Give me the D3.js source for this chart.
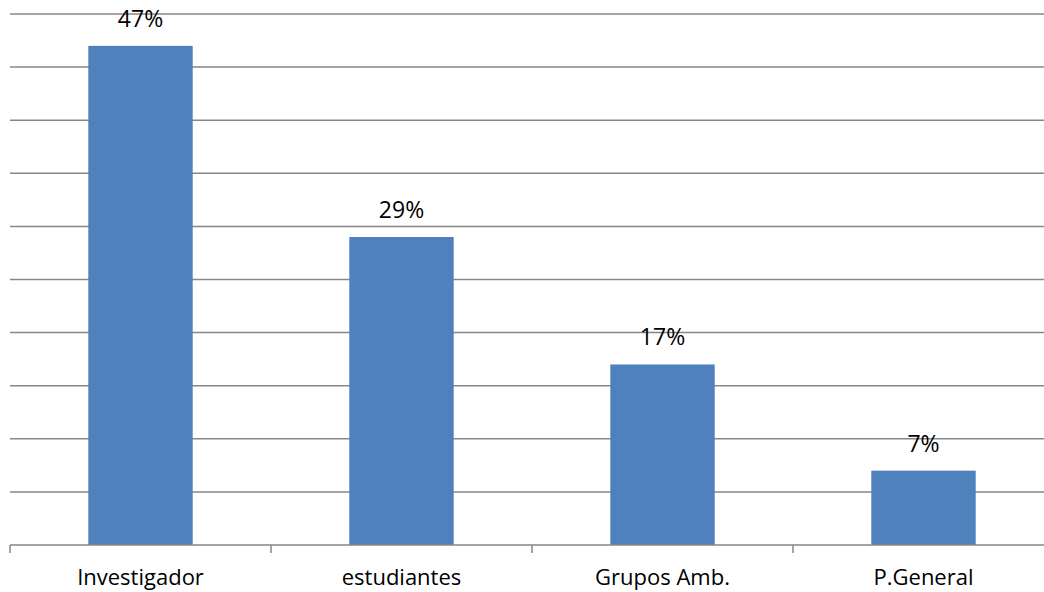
<!DOCTYPE html>
<html>
<head>
<meta charset="utf-8">
<script src="https://cdn.jsdelivr.net/npm/d3@7"></script>
<style>
  body { margin: 0; background: #fff; }
  text { font-family: "Open Sans", "Noto Sans", sans-serif; fill: #000; }
</style>
</head>
<body>
<svg id="chart" width="1044" height="592"></svg>
<script>
var categories = ["Investigador", "estudiantes", "Grupos Amb.", "P.General"];
var values = [0.47, 0.29, 0.17, 0.07];
var valueLabels = ["47%", "29%", "17%", "7%"];
var gridTicks = [0, 0.05, 0.10, 0.15, 0.20, 0.25, 0.30, 0.35, 0.40, 0.45, 0.50];

var svg = d3.select("#chart");
var plotLeft = 10, plotRight = 1054, plotTop = 14, plotBottom = 545;

var x = d3.scaleBand()
    .domain(categories)
    .range([plotLeft, plotRight])
    .paddingInner(0.6)
    .paddingOuter(0.3);

var y = d3.scaleLinear()
    .domain([0, 0.5])
    .range([plotBottom, plotTop]);

// gridlines
svg.append("g")
    .selectAll("line")
    .data(gridTicks.slice(1))
    .enter()
    .append("line")
    .attr("x1", plotLeft)
    .attr("x2", 1044)
    .attr("y1", function(d){ return y(d); })
    .attr("y2", function(d){ return y(d); })
    .attr("stroke", "#878787")
    .attr("stroke-width", 1.5);

// bars
svg.append("g")
    .selectAll("rect")
    .data(values)
    .enter()
    .append("rect")
    .attr("x", function(d, i){ return x(categories[i]); })
    .attr("y", function(d){ return y(d); })
    .attr("width", x.bandwidth())
    .attr("height", function(d){ return plotBottom - y(d); })
    .attr("fill", "#4f81bd");

// value labels
svg.append("g")
    .selectAll("text")
    .data(values)
    .enter()
    .append("text")
    .attr("x", function(d, i){ return x(categories[i]) + x.bandwidth() / 2; })
    .attr("y", function(d){ return y(d) - 19; })
    .attr("text-anchor", "middle")
    .attr("font-size", "23px")
    .text(function(d, i){ return valueLabels[i]; });

// x axis
var xAxis = d3.axisBottom(x).tickSize(0).tickPadding(0);
var ax = svg.append("g")
    .attr("transform", "translate(0," + plotBottom + ")")
    .call(xAxis);
ax.select(".domain").remove();
ax.selectAll("text")
    .attr("font-size", "22px")
    .attr("dy", 0)
    .attr("y", 40)
    .style("font-family", "'Open Sans', 'Noto Sans', sans-serif")
    .attr("fill", "#000");

ax.append("line")
    .attr("x1", plotLeft)
    .attr("x2", 1044)
    .attr("stroke", "#878787")
    .attr("stroke-width", 1.5);

// category boundary ticks
var step = x.step();
var boundaries = categories.map(function(c){ return x(c) - x.paddingOuter() * step; });
ax.selectAll(".bnd")
    .data(boundaries)
    .enter()
    .append("line")
    .attr("class", "bnd")
    .attr("x1", function(d){ return d; })
    .attr("x2", function(d){ return d; })
    .attr("y1", 0)
    .attr("y2", 8)
    .attr("stroke", "#878787")
    .attr("stroke-width", 1.5);
</script>
</body>
</html>
